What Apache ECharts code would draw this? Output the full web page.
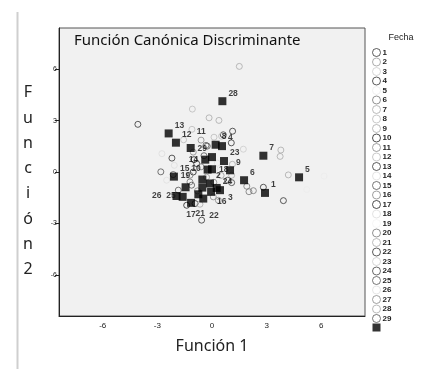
<!DOCTYPE html>
<html>
<head>
<meta charset="utf-8">
<script src="https://cdn.jsdelivr.net/npm/echarts@6/dist/echarts.min.js"></script>
<style>
  html, body { margin: 0; padding: 0; background: #fff; }
  #chart { width: 427px; height: 369px; }
</style>
</head>
<body>
<div id="chart"></div>
<script>
// grupos (Fecha)
var groups = ['1','2','3','4','5','6','7','8','9','10','11','12','13','14','15',
              '16','17','18','19','20','21','22','23','24','25','26','27','28','29'];

// centroides de grupo
var centroidX = [2.91, -0.11, 0.44, 0.55, 4.78, 1.76, 2.82, 0.20, 0.99, -0.24,
                 -1.17, -1.98, -2.38, -0.37, -2.09, -0.05, -1.15, 0.00, -1.45, -0.53,
                 -0.75, -0.48, 0.66, 0.26, -1.61, -1.95, -0.53, 0.57, 0.00];
var centroidY = [-1.22, -0.67, -1.06, 1.51, -0.31, -0.48, 0.95, 1.59, 0.10, 0.14,
                 1.40, 1.71, 2.25, 0.72, -0.27, -1.16, -1.80, 0.16, -0.89, -0.44,
                 -1.30, -1.55, 0.64, -0.93, -1.45, -1.40, -0.91, 4.13, 0.87];

// casos individuales
var caseGroup = ['28','12','28','28','13','12','11','4','8','8',
                 '4','12','23','7','7','14','13','29','29','11',
                 '9','15','14','7','5','5','6','6','6','1',
                 '1','24','24','10','20','3','16','18','10','25',
                 '22','16','17','21','26','4','29','10','18','20',
                 '9','25','17','2','2','27','27','20','15'];
var caseX = [1.50, -1.08, -0.16, 0.38, -4.07, -1.10, -0.60, 1.13, 0.11, 0.53,
             1.06, -1.56, 1.72, 3.78, 3.74, -2.75, -2.20, -0.44, -0.33, -1.03,
             1.12, -2.81, -2.07, 4.19, 6.15, 5.20, 1.91, 2.03, 2.27, 2.82,
             3.92, 0.86, 1.08, -1.03, -1.21, 0.35, 0.35, 0.16, -0.84, -1.85,
             -0.57, 0.07, -1.39, -0.66, -2.49, 0.62, -0.26, -0.99, 0.29, -1.21,
             1.08, -1.12, -0.93, -0.30, 0.50, -0.80, 0.10, -0.60, -2.13];
var caseY = [6.16, 3.67, 3.16, 3.01, 2.78, 2.49, 1.86, 2.38, 2.03, 2.09,
             1.70, 1.88, 1.33, 1.28, 0.91, 1.07, 0.81, 0.95, 1.55, 1.16,
             0.45, 0.01, 0.39, -0.17, -0.24, -1.02, -0.83, -1.15, -1.09, -0.89,
             -1.67, -0.48, -0.62, 0.00, -0.58, -0.91, -1.65, 0.20, 0.49, -1.06,
             -2.81, -1.45, -1.94, -1.88, -0.48, 2.17, 1.51, 0.72, 0.52, -0.19,
             -0.19, -0.77, -1.84, -0.30, -0.20, -1.10, -0.60, 0.30, -0.15];

var tickValues = [-6, -3, 0, 3, 6];

// tonos de gris por grupo
var groupColors = ['#333', '#999', '#ccc', '#333', '#ececec', '#777', '#aaa', '#bbb', '#aaa', '#222',
                   '#888', '#bbb', '#333', '#ddd', '#555', '#888', '#222', '#ddd', '#f4f4f4', '#777',
                   '#aaa', '#333', '#ccc', '#444', '#555', '#e0e0e0', '#888', '#aaa', '#555'];

// colocación de etiquetas de centroides
var labelPlace = {
    '3':  { position: 'right', distance: 4, offset: [0, 7] },
    '10': { position: 'left', distance: 3, offset: [0, -1] },
    '11': { position: 'right', distance: 2, offset: [0, -16] },
    '14': { position: 'left', distance: 3, offset: [0, 0] },
    '16': { position: 'right', distance: 2, offset: [0, 10] },
    '17': { position: 'bottom', distance: 3, offset: [0, 0] },
    '18': { position: 'right', distance: 3, offset: [0, 0] },
    '19': { position: 'top', distance: 3, offset: [0, 0] },
    '20': { show: false },
    '21': { position: 'bottom', distance: 3, offset: [2, 8] },
    '22': { position: 'right', distance: 2, offset: [0, 17] },
    '24': { position: 'right', distance: 2, offset: [0, -6] },
    '25': { position: 'left', distance: 3, offset: [0, -1] },
    '26': { position: 'left', distance: 11, offset: [0, 0] },
    '27': { show: false },
    '29': { position: 'left', distance: 1, offset: [0, -8] }
};

var chart = echarts.init(document.getElementById('chart'), null, { renderer: 'canvas' });

var series = groups.map(function(g, i) {
    var pts = [];
    for (var k = 0; k < caseGroup.length; k++) {
        if (caseGroup[k] === g) pts.push([caseX[k], caseY[k]]);
    }
    return {
        name: g,
        type: 'scatter',
        symbol: 'circle',
        symbolSize: 6,
        itemStyle: { color: 'rgba(0,0,0,0)', borderColor: groupColors[i], borderWidth: 1 },
        emphasis: { disabled: true },
        data: pts,
        z: 2
    };
});

series.push({
    name: 'Centroide de grupo',
    type: 'scatter',
    symbol: 'rect',
    symbolSize: 8,
    itemStyle: { color: '#000' },
    label: {
        show: true,
        position: 'right',
        distance: 2,
        offset: [0, -8],
        fontSize: 8.5,
        fontWeight: 'bold',
        fontFamily: 'Liberation Sans',
        color: '#111',
        formatter: function(p) { return p.name; }
    },
    emphasis: { disabled: true },
    data: groups.map(function(g, i) {
        var item = { name: g, value: [centroidX[i], centroidY[i]] };
        if (labelPlace[g]) item.label = labelPlace[g];
        return item;
    }),
    z: 5
});

var legendData = groups.map(function(g, i) {
    return {
        name: g,
        icon: 'circle',
        itemStyle: { color: '#fff', borderColor: groupColors[i], borderWidth: 1 }
    };
});
legendData.push({ name: 'Centroide de grupo', icon: 'rect', itemStyle: { color: '#000' } });

var option = {
    animation: false,
    backgroundColor: '#fff',
    title: {
        text: 'Función Canónica Discriminante',
        left: 69,
        top: 28,
        textStyle: { fontSize: 15, fontWeight: 'normal', fontFamily: 'Noto Sans', color: '#111' }
    },
    grid: {
        left: 59, right: 62, top: 28, bottom: 53,
        show: true,
        backgroundColor: '#f1f1f1',
        borderColor: '#555',
        borderWidth: 1
    },
    legend: {
        orient: 'vertical',
        left: 372,
        top: 48,
        padding: 0,
        itemWidth: 8,
        itemHeight: 8,
        itemGap: 0.5,
        selectedMode: false,
        data: legendData,
        formatter: function(name) { return name === 'Centroide de grupo' ? '' : name; },
        textStyle: { fontSize: 8, lineHeight: 8, padding: [0, 0, 0, -3], fontWeight: 'bold', fontFamily: 'Liberation Sans', color: '#222' }
    },
    xAxis: {
        type: 'value',
        min: -8.4, max: 8.4,
        name: 'Función 1',
        nameLocation: 'middle',
        nameGap: 22,
        nameTextStyle: { fontSize: 16, fontFamily: 'Noto Sans', color: '#222' },
        axisLine: { show: true, onZero: false, lineStyle: { color: '#222' } },
        axisTick: { show: false, customValues: tickValues },
        axisLabel: { customValues: tickValues, fontSize: 8, margin: 6, fontFamily: 'Liberation Sans', color: '#222' },
        splitLine: { show: false }
    },
    yAxis: {
        type: 'value',
        min: -8.4, max: 8.4,
        axisLine: { show: true, onZero: false, lineStyle: { color: '#222' } },
        axisTick: { show: true, length: 4, customValues: tickValues, lineStyle: { color: '#222' } },
        axisLabel: { customValues: tickValues, fontSize: 7, margin: 2, fontFamily: 'Liberation Sans', color: '#222' },
        splitLine: { show: false }
    },
    graphic: [
        { type: 'line', shape: { x1: 17.5, y1: 12, x2: 17.5, y2: 369 }, style: { stroke: '#cfcfcf', lineWidth: 2 } },
        { type: 'text', x: 28, y: 80, style: { text: 'F\nu\nn\nc\ni\nó\nn\n2', font: '16px "Noto Sans"', fill: '#222', align: 'center', lineHeight: 25.3 } },
        { type: 'text', x: 401, y: 33, style: { text: 'Fecha', font: '9px "Liberation Sans"', fill: '#222', align: 'center' } }
    ],
    series: series
};

chart.setOption(option);
</script>
</body>
</html>
